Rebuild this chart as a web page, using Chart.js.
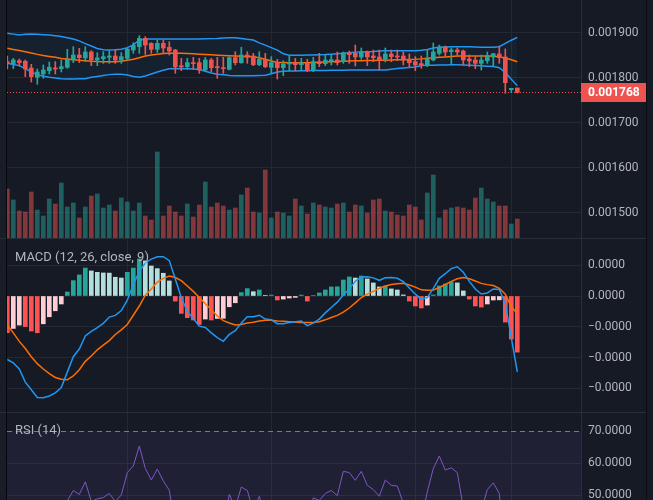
<!DOCTYPE html>
<html>
<head>
<meta charset="utf-8">
<script src="https://cdn.jsdelivr.net/npm/chart.js@4.4.1/dist/chart.umd.min.js"></script>
<style>
  html, body { margin: 0; padding: 0; background: #161a25; overflow: hidden; }
  #wrap { position: relative; width: 653px; height: 500px; background: #161a25; }
  canvas { position: absolute; left: 7px; }
  .sep { position: absolute; left: 0; width: 646px; height: 1px; background: #2a2e39; }
  .title { position: absolute; left: 15px; font: 13px Roboto, sans-serif; color: #b2b5be; line-height: 16px; white-space: nowrap; }
</style>
</head>
<body>
<div id="wrap">
  <div style="position:absolute;left:0;top:0;width:6px;height:500px;background:#191d28"></div>
  <canvas id="price" width="639" height="238" style="top:0"></canvas>
  <div class="sep" style="top:238px"></div>
  <canvas id="macd" width="639" height="173" style="top:239px"></canvas>
  <div class="sep" style="top:412px"></div>
  <canvas id="rsi" width="639" height="87" style="top:413px"></canvas>
  <div style="position:absolute;left:6px;top:0;width:1px;height:500px;background:#07080c"></div>
  <div style="position:absolute;left:646px;top:0;width:1px;height:500px;background:#0b0d12"></div>
  <div class="title" style="top:249px">MACD (12, 26, close, 9)</div>
  <div class="title" style="top:422px">RSI (14)</div>
</div>
<script>
// prices in millionths: 1836.3 means 0.0018363
const opens = [1836.3,1831.9,1838.5,1837.0,1822.2,1801.5,1808.9,1816.3,1822.2,1820.8,
  1823.7,1840.0,1851.1,1844.5,1857.8,1840.0,1843.0,1846.0,1848.9,1840.0,
  1843.7,1862.2,1869.6,1888.2,1877.0,1863.7,1877.0,1868.2,1862.2,1827.4,
  1825.2,1834.1,1834.1,1817.8,1840.0,1825.2,1823.0,1819.3,1845.2,1834.1,
  1851.1,1848.9,1829.6,1841.5,1823.7,1834.1,1823.0,1831.1,1834.1,1829.6,
  1832.6,1816.3,1836.3,1831.9,1838.5,1840.0,1836.3,1856.3,1854.8,1846.7,
  1857.8,1848.9,1846.7,1841.5,1853.3,1848.9,1848.9,1841.5,1836.3,1831.9,
  1828.9,1840.0,1854.8,1868.9,1858.5,1862.2,1860.0,1842.2,1840.0,1832.6,
  1838.5,1846.7,1853.3,1846.7,1774.1,1777.8];
const highs = [1848.9,1843.7,1842.2,1840.0,1830.4,1820.0,1828.9,1835.6,1836.3,1840.0,
  1863.7,1869.6,1865.9,1869.6,1860.8,1856.3,1858.5,1860.8,1863.7,1856.3,
  1866.7,1878.5,1894.1,1891.9,1878.5,1884.5,1884.5,1880.8,1863.7,1843.7,
  1843.7,1845.9,1843.7,1845.9,1843.7,1845.9,1845.9,1847.4,1858.5,1868.2,
  1858.5,1854.8,1858.5,1854.8,1847.4,1841.5,1838.5,1848.9,1843.7,1843.7,
  1841.5,1845.9,1854.8,1852.6,1851.1,1857.8,1857.8,1860.0,1873.3,1866.7,
  1860.0,1862.2,1862.2,1866.7,1862.2,1862.2,1857.8,1853.3,1847.4,1848.9,
  1862.2,1877.8,1873.3,1871.1,1866.7,1866.7,1862.2,1851.1,1847.4,1851.1,
  1857.8,1854.8,1871.1,1864.5,1777.1,1777.8];
const lows = [1820.0,1820.8,1826.7,1803.0,1791.1,1786.0,1799.3,1808.9,1808.9,1813.4,
  1821.5,1834.1,1834.1,1836.3,1827.4,1827.4,1832.6,1832.6,1832.6,1832.6,
  1840.0,1854.8,1854.8,1852.6,1854.8,1857.0,1854.8,1851.1,1810.4,1816.3,
  1819.3,1819.3,1810.4,1814.1,1814.1,1799.3,1810.4,1817.8,1828.9,1832.6,
  1832.6,1827.4,1827.4,1823.0,1810.4,1797.8,1805.2,1816.3,1816.3,1816.3,
  1814.1,1814.1,1825.2,1827.4,1828.9,1828.9,1832.6,1832.6,1826.7,1841.5,
  1827.4,1836.3,1817.8,1835.6,1836.3,1838.5,1828.9,1825.2,1816.3,1821.5,
  1825.2,1837.8,1851.1,1848.9,1828.9,1851.1,1828.9,1825.2,1820.8,1817.8,
  1832.6,1825.2,1832.6,1766.0,1767.4,1767.0];
const closes = [1831.9,1840.0,1834.1,1820.0,1803.0,1813.4,1817.8,1823.7,1820.0,1825.2,
  1841.5,1851.1,1845.2,1857.8,1840.0,1844.5,1847.4,1848.9,1840.0,1847.4,
  1864.5,1872.6,1888.2,1873.3,1863.7,1877.0,1866.7,1860.0,1825.2,1824.5,
  1834.1,1831.9,1817.8,1840.0,1823.0,1823.0,1820.8,1845.2,1834.1,1851.1,
  1846.0,1829.6,1841.5,1825.2,1834.1,1823.0,1831.1,1834.1,1829.6,1834.1,
  1816.3,1836.3,1831.9,1840.0,1840.0,1834.1,1855.6,1851.9,1846.7,1857.8,
  1846.7,1845.2,1840.0,1853.3,1847.4,1846.7,1840.0,1834.1,1828.9,1829.6,
  1843.0,1857.8,1868.9,1857.8,1862.2,1857.8,1840.0,1837.8,1832.6,1840.0,
  1848.9,1854.1,1845.2,1789.6,1777.1,1768.0];
const volumes = [49,38,27,26,46,28,22,39,34,55,
  31,35,20,31,42,44,30,33,27,40,
  36,27,35,22,18,86,22,32,26,22,
  34,21,33,56,31,35,32,28,30,43,
  50,26,25,68,20,26,25,22,39,32,
  24,35,33,31,30,34,35,26,33,32,
  25,38,39,27,26,23,22,33,31,18,
  45,63,20,28,30,31,30,28,40,50,
  39,36,32,32,14,19];

// Bollinger Bands (20, 2)
const bbUpper = [1899.3,1897.5,1895.8,1897.0,1897.8,1897.2,1896.3,1895.6,1894.0,1892.0,
  1889.5,1886.5,1882.5,1876.5,1871.0,1865.5,1862.8,1862.2,1862.8,1863.7,
  1867.5,1873.5,1884.0,1886.7,1886.7,1886.7,1886.7,1886.7,1886.7,1886.7,
  1886.7,1886.7,1886.7,1887.0,1887.5,1888.0,1888.8,1889.4,1889.3,1887.8,
  1886.0,1884.5,1878.0,1873.0,1867.5,1862.0,1854.0,1850.5,1850.5,1850.8,
  1851.0,1851.3,1851.7,1852.0,1853.0,1854.0,1855.0,1856.0,1857.5,1858.0,
  1858.5,1859.0,1859.8,1860.3,1860.8,1860.8,1860.8,1860.8,1860.8,1861.8,
  1863.5,1866.5,1868.3,1868.8,1869.2,1869.6,1869.4,1869.2,1869.0,1868.6,
  1868.3,1868.2,1869.6,1877.0,1884.0,1890.4];
const bbBasis = [1865.9,1863.5,1861.0,1858.5,1855.5,1852.5,1849.8,1848.0,1846.0,1843.5,
  1842.0,1840.5,1839.2,1838.2,1837.2,1836.5,1836.3,1836.3,1836.3,1837.3,
  1839.5,1841.5,1845.0,1848.9,1851.0,1853.0,1854.5,1854.8,1854.8,1854.8,
  1854.5,1853.7,1853.0,1852.2,1851.4,1850.6,1850.0,1849.5,1849.0,1848.5,
  1847.8,1847.2,1845.0,1841.5,1838.0,1834.5,1834.2,1834.0,1834.0,1834.0,
  1834.1,1834.5,1835.0,1835.5,1836.0,1836.5,1837.0,1837.6,1838.2,1838.6,
  1838.8,1839.0,1839.3,1839.6,1840.0,1840.3,1840.6,1841.0,1841.4,1842.5,
  1844.0,1845.2,1846.0,1846.9,1847.9,1848.9,1848.9,1848.9,1848.9,1848.9,
  1848.9,1848.7,1846.5,1844.5,1840.5,1836.3];
const bbLower = [1832.6,1830.0,1827.5,1821.0,1813.0,1807.5,1804.0,1801.5,1800.0,1798.2,
  1797.8,1798.0,1798.2,1798.5,1801.5,1803.5,1805.5,1807.5,1808.2,1808.2,
  1806.5,1803.5,1801.5,1804.5,1809.0,1813.5,1817.0,1820.5,1821.3,1820.8,
  1820.3,1819.8,1819.0,1815.0,1811.0,1808.5,1807.0,1805.5,1805.2,1805.2,
  1805.2,1805.2,1805.7,1806.3,1809.5,1813.5,1814.8,1815.4,1815.8,1816.0,
  1816.2,1816.4,1816.6,1816.8,1817.0,1817.2,1817.4,1817.6,1817.8,1817.8,
  1817.8,1817.8,1817.8,1818.0,1819.7,1821.2,1822.4,1823.5,1824.7,1827.8,
  1828.4,1828.6,1828.9,1829.1,1829.3,1829.6,1829.0,1828.3,1827.6,1827.0,
  1826.2,1825.4,1823.0,1812.0,1797.0,1783.0];

// MACD values in millionths
const macdLine = [-4.13,-4.35,-4.75,-5.6,-6.1,-6.6,-6.62,-6.5,-6.3,-5.95,
  -4.95,-3.95,-3.45,-2.6,-2.3,-2.05,-1.78,-1.37,-1.26,-0.95,
  -0.27,0.75,1.6,2.15,2.4,2.55,2.56,2.3,1.1,-0.11,
  -1.0,-1.46,-1.96,-2.05,-2.4,-2.7,-2.95,-2.5,-2.25,-1.75,
  -1.35,-1.35,-1.25,-1.5,-1.55,-1.8,-1.8,-1.73,-1.68,-1.63,
  -1.93,-1.76,-1.5,-1.1,-0.75,-0.4,0.07,0.46,0.95,1.24,
  1.25,1.18,1.02,1.18,1.2,1.15,0.93,0.52,0.12,-0.2,
  -0.1,0.5,1.15,1.45,1.78,1.9,1.54,0.95,0.45,0.13,
  0.2,0.46,0.43,-0.48,-2.7,-4.93];
const signalLine = [-1.89,-2.4,-2.95,-3.42,-3.95,-4.4,-4.75,-5.05,-5.3,-5.42,
  -5.45,-5.2,-4.8,-4.25,-3.9,-3.5,-3.2,-2.9,-2.5,-2.2,
  -1.85,-1.25,-0.65,0.05,0.45,0.9,1.15,1.3,1.2,1.0,
  0.65,0.3,-0.1,-0.5,-0.9,-1.3,-1.6,-1.76,-1.89,-1.85,
  -1.75,-1.7,-1.63,-1.58,-1.57,-1.62,-1.65,-1.68,-1.71,-1.72,
  -1.72,-1.72,-1.68,-1.55,-1.4,-1.26,-1.05,-0.78,-0.45,-0.1,
  0.12,0.3,0.5,0.65,0.75,0.8,0.83,0.72,0.58,0.4,
  0.38,0.39,0.55,0.75,0.95,1.12,1.2,1.12,0.98,0.82,
  0.74,0.68,0.5,0.11,-0.7,-1.13];
const macdHist = [-2.39,-2.11,-1.89,-1.99,-2.28,-2.39,-1.81,-1.35,-0.96,-0.52,
  0.26,1.0,1.37,1.82,1.63,1.54,1.5,1.49,1.22,1.17,
  1.54,1.82,2.41,2.28,1.95,1.78,1.48,0.98,-0.33,-1.13,
  -1.41,-1.56,-1.85,-1.5,-1.56,-1.46,-1.45,-0.7,-0.44,0.22,
  0.48,0.28,0.39,0.04,0.06,-0.26,-0.2,-0.13,-0.09,0.06,
  -0.33,0.03,0.2,0.39,0.59,0.6,1.04,1.24,1.17,1.3,
  1.11,0.85,0.59,0.65,0.46,0.39,0.07,-0.33,-0.65,-0.78,
  -0.59,0.07,0.65,0.78,0.91,0.85,0.33,-0.2,-0.65,-0.72,
  -0.52,-0.26,-0.25,-1.7,-2.8,-3.65];

const rsiValues = [44,46,46,41,35,38,41,43,43,45,
  48.2,51.4,50.2,54.1,48.0,48.8,49.2,50.5,48.0,50.0,
  57.0,59.1,65.3,58.3,54.7,58.1,54.4,51.5,40,39.5,
  42,41,38,45,41,40.5,40,50.2,46,52.5,
  51.4,45,49.6,44,46,43,45,46,45,46,
  42,49.1,48.3,50.5,51.4,49.8,57.4,57.0,54.6,57.4,
  53,51.7,49.6,54.7,53,52.8,47.5,44,41,42,
  51,58.3,62.2,57.8,58.5,57,46,44,43,45,
  51.7,53.8,50.5,32,31,29];

const priceTicks = [1500, 1600, 1700, 1800, 1900];
const macdTicks = [2, 0, -2, -4, -6];
const rsiTicks = [50, 60, 70];
const timeGridAt = [20, 44, 68, 84];
const lastPrice = 1768;

const UP = '#26a69a', DOWN = '#ef5350';
const GRID = '#242833', AXIS = '#2a2e39', TEXT = '#b2b5be';
const AXIS_W = 65;
const X_MIN = -0.05, X_MAX = X_MIN + 574 / 6;

Chart.defaults.font.family = 'Roboto';
Chart.defaults.animation = false;

const pts = arr => arr.map((y, i) => ({ x: i, y }));
const isUp = i => closes[i] >= opens[i];

function xScale() {
  return {
    type: 'linear', min: X_MIN, max: X_MAX, offset: false,
    afterBuildTicks: s => { s.ticks = timeGridAt.map(v => ({ value: v })); },
    ticks: { display: false },
    grid: { color: GRID, drawTicks: false, offset: false },
    border: { display: false },
  };
}

function yScale(min, max, ticks, fmt, gridColor) {
  return {
    position: 'right', min, max,
    afterBuildTicks: s => { s.ticks = ticks.map(v => ({ value: v })); },
    afterFit: s => { s.width = AXIS_W; s.paddingTop = 0; s.paddingBottom = 0; },
    ticks: { color: TEXT, font: { size: 12 }, padding: 7, callback: fmt },
    grid: { color: gridColor || GRID, drawTicks: false },
    border: { color: AXIS },
  };
}

const baseOptions = {
  responsive: false,
  maintainAspectRatio: false,
  events: [],
  layout: { padding: 0 },
  plugins: { legend: { display: false }, tooltip: { enabled: false } },
};

const lastPricePlugin = {
  id: 'lastPrice',
  afterDraw(chart) {
    const { ctx, chartArea, scales } = chart;
    const y = Math.round(scales.y.getPixelForValue(lastPrice)) + 0.5;
    ctx.save();
    ctx.strokeStyle = DOWN;
    ctx.lineWidth = 1;
    ctx.setLineDash([1, 2]);
    ctx.beginPath();
    ctx.moveTo(chartArea.left, y);
    ctx.lineTo(chartArea.right, y);
    ctx.stroke();
    ctx.setLineDash([]);
    ctx.fillStyle = DOWN;
    ctx.fillRect(chartArea.right, y - 9.5, chart.width - chartArea.right, 19);
    ctx.fillStyle = '#ffffff';
    ctx.font = 'bold 12px Roboto';
    ctx.textBaseline = 'middle';
    ctx.fillText((lastPrice / 1e6).toFixed(6), chartArea.right + 7, y + 0.5);
    ctx.restore();
  }
};

new Chart(document.getElementById('price'), {
  type: 'bar',
  data: {
    datasets: [
      {
        type: 'bar', yAxisID: 'vol', order: 10, grouped: false, barThickness: 4,
        data: pts(volumes),
        backgroundColor: volumes.map((v, i) => isUp(i) ? 'rgba(38,166,154,0.5)' : 'rgba(239,83,80,0.5)'),
      },
      {
        type: 'line', order: 6, data: pts(bbUpper), borderColor: '#2196f3', borderWidth: 1.5,
        pointRadius: 0, tension: 0, fill: { target: 3 }, backgroundColor: 'rgba(33,150,243,0.06)',
      },
      {
        type: 'line', order: 5, data: pts(bbBasis), borderColor: '#ff6d00', borderWidth: 1.5,
        pointRadius: 0, tension: 0, fill: false,
      },
      {
        type: 'line', order: 6, data: pts(bbLower), borderColor: '#2196f3', borderWidth: 1.5,
        pointRadius: 0, tension: 0, fill: false,
      },
      {
        type: 'bar', order: 2, grouped: false, barThickness: 1,
        data: lows.map((l, i) => ({ x: i, y: [l, highs[i]] })),
        backgroundColor: opens.map((o, i) => isUp(i) ? UP : DOWN),
      },
      {
        type: 'bar', order: 1, grouped: false, barThickness: 4, minBarLength: 1,
        data: opens.map((o, i) => ({ x: i, y: [o, closes[i]] })),
        backgroundColor: opens.map((o, i) => isUp(i) ? UP : DOWN),
      },
    ]
  },
  options: {
    ...baseOptions,
    scales: {
      x: xScale(),
      y: yScale(1900 - 205 / 0.45, 1900 + 33 / 0.45, priceTicks, v => (v / 1e6).toFixed(6)),
      vol: { display: false, min: 0, max: 238 },
    }
  },
  plugins: [lastPricePlugin],
});

const histColors = macdHist.map((h, i) => {
  const prev = i > 0 ? macdHist[i - 1] : 0;
  if (h >= 0) return prev < h ? '#26a69a' : '#b2dfdb';
  return prev > h ? '#ff5252' : '#ffcdd2';
});

new Chart(document.getElementById('macd'), {
  type: 'bar',
  data: {
    datasets: [
      { type: 'bar', order: 3, grouped: false, barThickness: 4, data: pts(macdHist), backgroundColor: histColors },
      { type: 'line', order: 2, data: pts(signalLine), borderColor: '#ff6d00', borderWidth: 1.5, pointRadius: 0, tension: 0 },
      { type: 'line', order: 1, data: pts(macdLine), borderColor: '#2196f3', borderWidth: 1.5, pointRadius: 0, tension: 0 },
    ]
  },
  options: {
    ...baseOptions,
    scales: {
      x: xScale(),
      y: yScale(-116 / 15.375, 57 / 15.375, macdTicks, v => (v / 1e6).toFixed(4).replace('-', '\u2212')),
    }
  },
});

const rsiBandPlugin = {
  id: 'rsiBand',
  beforeDatasetsDraw(chart) {
    const { ctx, chartArea: a, scales: { y } } = chart;
    const top = y.getPixelForValue(70), bot = y.getPixelForValue(30);
    ctx.save();
    ctx.beginPath();
    ctx.rect(a.left, a.top, a.width, a.height);
    ctx.clip();
    ctx.fillStyle = 'rgba(126,87,194,0.1)';
    ctx.fillRect(a.left, top, a.width, bot - top);
    ctx.strokeStyle = '#787b86';
    ctx.lineWidth = 1;
    ctx.setLineDash([5, 4]);
    ctx.beginPath();
    ctx.moveTo(a.left, Math.round(top) + 0.5);
    ctx.lineTo(a.right, Math.round(top) + 0.5);
    ctx.stroke();
    ctx.restore();
  }
};

new Chart(document.getElementById('rsi'), {
  type: 'line',
  data: {
    datasets: [
      { data: pts(rsiValues), borderColor: '#7e57c2', borderWidth: 1, pointRadius: 0, tension: 0 },
    ]
  },
  options: {
    ...baseOptions,
    scales: {
      x: xScale(),
      y: yScale(50 - 5 / 3.2, 70 + 18 / 3.2, rsiTicks, v => v.toFixed(4),
        ctx => ctx.tick && ctx.tick.value === 70 ? 'rgba(0,0,0,0)' : GRID),
    }
  },
  plugins: [rsiBandPlugin],
});
</script>
</body>
</html>
